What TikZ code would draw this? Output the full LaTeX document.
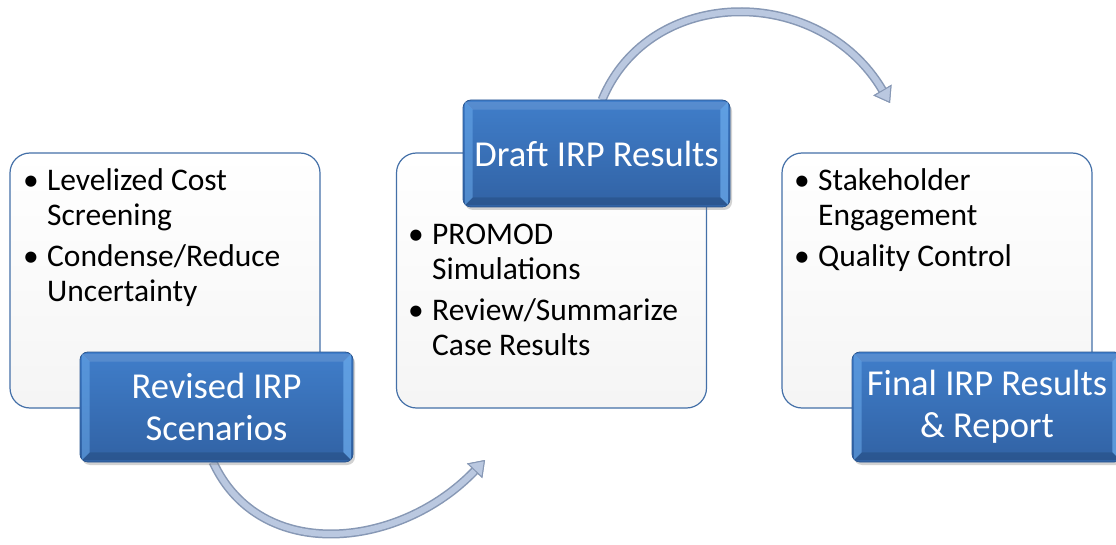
\documentclass[tikz,border=0pt]{standalone}
\usepackage{fontspec}
\setmainfont{Carlito}
\usetikzlibrary{arrows.meta,calc,shadows}
\definecolor{boxedge}{HTML}{4470A8}
\definecolor{bluetop}{HTML}{407ECA}
\definecolor{bluebot}{HTML}{3162A4}
\definecolor{blueedge}{HTML}{2A5690}
\definecolor{bevlight}{HTML}{6AAAEB}
\definecolor{arrowfill}{HTML}{BAC8E0}
\definecolor{arrowedge}{HTML}{8798B5}
\tikzset{
  whitebox/.style={draw=boxedge, line width=1.2pt, rounded corners=20pt,
    top color=white, bottom color=black!4, minimum width=310pt,
    minimum height=255pt, inner sep=0pt},
  bluebox/.style={draw=blueedge, line width=0.8pt, rounded corners=8pt,
    top color=bluetop, bottom color=bluebot, text=white,
    font=\fontsize{36.5}{42}\selectfont, align=center, inner sep=0pt,
    drop shadow={shadow xshift=2pt, shadow yshift=-3pt, opacity=0.35}},
  bluetext/.style={text=white, font=\fontsize{36.5}{42}\selectfont,
    align=center, inner sep=0pt},
  bodytext/.style={font=\fontsize{31.5}{35}\selectfont, inner sep=0pt,
    anchor=base west, align=left},
  tip/.style={-{Triangle[length=15pt,width=21pt,line width=1pt,fill=arrowfill,color=arrowedge]}},
  arrowout/.style={tip, draw=arrowedge, line width=9pt},
  arrowin/.style={tip, draw=arrowfill, line width=6pt},
}
\newcommand\bevel[1]{%
  \fill[bevlight, opacity=0.55] ($(#1.north west)+(2.5,-2.5)$) -- ($(#1.north west)+(10,-10)$)
     -- ($(#1.south west)+(10,10)$) -- ($(#1.south west)+(2.5,2.5)$) -- cycle;
  \fill[bevlight, opacity=0.75] ($(#1.north east)+(-2.5,-2.5)$) -- ($(#1.north east)+(-10,-10)$)
     -- ($(#1.south east)+(-10,10)$) -- ($(#1.south east)+(-2.5,2.5)$) -- cycle;
  \fill[white, opacity=0.12] ($(#1.north west)+(2.5,-2.5)$) -- ($(#1.north east)+(-2.5,-2.5)$)
     -- ($(#1.north east)+(-10,-10)$) -- ($(#1.north west)+(10,-10)$) -- cycle;
  \fill[black, opacity=0.12] ($(#1.south west)+(2.5,2.5)$) -- ($(#1.south east)+(-2.5,2.5)$)
     -- ($(#1.south east)+(-10,10)$) -- ($(#1.south west)+(10,10)$) -- cycle;
}
\newcommand\bul{\hspace*{-2pt}\textbullet}
\begin{document}
\begin{tikzpicture}[x=1pt,y=1pt]
\useasboundingbox (0,0) rectangle (1116,544);
\fill[white] (0,0) rectangle (1116,544);
% white content boxes
\node[whitebox] (lw) at (165,263.5) {};
\node[whitebox] (mw) at (551.5,263.5) {};
\node[whitebox] (rw) at (937,263.5) {};
% body texts
\node[bodytext] (lt) at (25,353) {\begin{tabular}[t]{@{}p{22pt}@{}l@{}}
  \bul & Levelized Cost\\ & Screening\\[6pt]
  \bul & Condense/Reduce\\ & Uncertainty\end{tabular}};
\node[bodytext] (mt) at (410,299) {\begin{tabular}[t]{@{}p{22pt}@{}l@{}}
  \bul & PROMOD\\ & Simulations\\[6pt]
  \bul & Review/Summarize\\ & Case Results\end{tabular}};
\node[bodytext] (rt) at (796,353) {\begin{tabular}[t]{@{}p{22pt}@{}l@{}}
  \bul & Stakeholder\\ & Engagement\\[6pt]
  \bul & Quality Control\end{tabular}};
% arrow end points
\coordinate (tt) at (890,441);
\coordinate (bt) at (485,84);
\coordinate (ts) at (602,444);
\coordinate (bs) at (213,82);
% arrows
\draw[arrowout] (ts) .. controls (650,560) and (820,560) .. (tt);
\draw[arrowin]  (ts) .. controls (650,560) and (820,560) .. (tt);
\draw[arrowout] (bs) .. controls (260,-20) and (400,-5) .. (bt);
\draw[arrowin]  (bs) .. controls (260,-20) and (400,-5) .. (bt);
% blue title boxes
\node[bluebox, minimum width=273pt, minimum height=110pt] (rev) at (216.5,137) {};
\bevel{rev}
\node[bluetext] (revt) at (rev.center) {Revised IRP\\Scenarios};
\node[bluebox, minimum width=267pt, minimum height=107pt] (dr) at (596.5,390.5) {};
\bevel{dr}
\node[bluetext] (drt) at (dr.center) {Draft IRP Results};
\node[bluebox, minimum width=270pt, minimum height=110pt] (fin) at (987,137) {};
\bevel{fin}
\node[bluetext] (fint) at (fin.center) {Final IRP Results\\\& Report};
\end{tikzpicture}
\end{document}
